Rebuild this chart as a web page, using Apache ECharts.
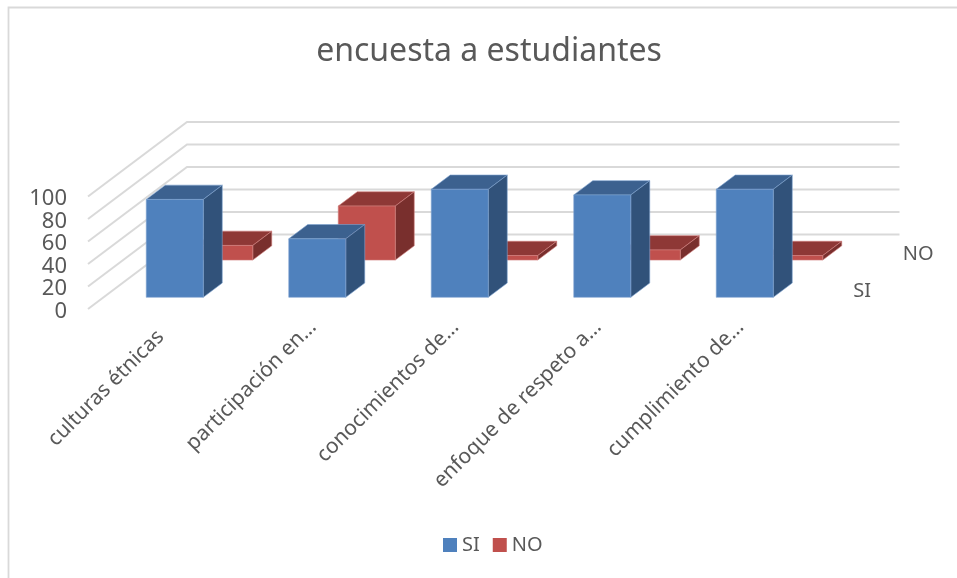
<!DOCTYPE html>
<html><head><meta charset="utf-8">
<style>html,body{margin:0;padding:0;background:#fff}#c{width:957px;height:578px}</style>
<script src="https://cdn.jsdelivr.net/npm/echarts@6/dist/echarts.min.js"></script>
</head><body><div id="c"></div>
<script>
const categories = ['culturas étnicas','participación en…','conocimientos de…','enfoque de respeto a…','cumplimiento de…'];
const siValues = [87,52,96,91,96];
const noValues = [13,48,4,9,4];
const yTicks = [0,20,40,60,80,100];
const depthLabels = ['SI','NO'];

const FONT = '"Noto Sans"';
const TEXT = '#595959';
const DEPTH_X = 99, DEPTH_Y = -74.5;   // full floor depth
const ROW_X = DEPTH_X/2, ROW_Y = DEPTH_Y/2;
const BAR_W = 0.4;                     // of a category band
const BAR_DX = 19, BAR_DY = -14.3;     // depth of one bar
const IN_X = 15.5, IN_Y = -11.7;       // gap from row front to bar front

function barItem(row, front, top, side, rim){
  return function(params, api){
    const i = api.value(0), v = api.value(1);
    const band = api.size([1,0])[0];
    const base = api.coord([i,0]), head = api.coord([i,v]);
    const w = band*BAR_W;
    const ox = row*ROW_X + IN_X, oy = row*ROW_Y + IN_Y;
    const l = base[0]-w/2+ox, r = l+w, b = base[1]+oy, t = head[1]+oy;
    const poly = (pts,fill)=>({type:'polygon',shape:{points:pts},
      style:{fill:fill,stroke:rim,lineWidth:0.6}});
    return {type:'group',children:[
      poly([[l,t],[r,t],[r+BAR_DX,t+BAR_DY],[l+BAR_DX,t+BAR_DY]],top),
      poly([[r,b],[r,t],[r+BAR_DX,t+BAR_DY],[r+BAR_DX,b+BAR_DY]],side),
      poly([[l,b],[r,b],[r,t],[l,t]],front)
    ]};
  };
}

const chart = echarts.init(document.getElementById('c'),null,{renderer:'canvas'});
chart.setOption({
  animation:false,
  backgroundColor:'#fff',
  textStyle:{fontFamily:FONT},
  title:{text:'encuesta a estudiantes',left:484,top:31,textAlign:'center',
    textStyle:{fontFamily:FONT,fontSize:32,fontWeight:'normal',color:TEXT}},
  legend:{data:['SI','NO'],left:438,top:530,icon:'rect',itemWidth:14,itemHeight:14,itemGap:13,
    textStyle:{fontFamily:FONT,fontSize:20,color:TEXT}},
  grid:{left:88,top:196.5,width:712.5,height:112.5,containLabel:false},
  xAxis:{type:'category',
    data:categories.map((c,i)=>({value:c,textStyle:{padding:i===0?[0,-2,0,0]:[0,-16,0,0]}})),
    axisLine:{show:false},axisTick:{show:false},
    splitLine:{show:false},
    axisLabel:{rotate:45,interval:0,margin:26,fontFamily:FONT,fontSize:21,color:TEXT}},
  yAxis:{type:'value',min:0,max:100,interval:20,axisLine:{show:false},axisTick:{show:false},
    splitLine:{show:false},
    axisLabel:{margin:21,fontFamily:FONT,fontSize:22,color:TEXT,verticalAlign:'top',lineHeight:5}},
  graphic:[{type:'rect',silent:true,z:-1,shape:{x:8.5,y:7.5,width:960,height:580},
    style:{fill:'none',stroke:'#d9d9d9',lineWidth:1.8}}],
  series:[
    {name:'walls',type:'custom',coordinateSystem:'cartesian2d',clip:false,silent:true,z:1,
      data:yTicks.map(t=>[0,t]),
      renderItem(params,api){
        const p = api.coord([0,api.value(1)]);
        const e = api.coord([categories.length-1,0])[0]+api.size([1,0])[0]/2;
        return {type:'polyline',shape:{points:[[p[0]-api.size([1,0])[0]/2,p[1]],
          [p[0]-api.size([1,0])[0]/2+DEPTH_X,p[1]+DEPTH_Y],[e+DEPTH_X,p[1]+DEPTH_Y]]},
          style:{fill:'none',stroke:'#d9d9d9',lineWidth:2}};
      }},
    {name:'NO',type:'custom',coordinateSystem:'cartesian2d',clip:false,z:2,
      itemStyle:{color:'#C0504D'},
      data:noValues.map((v,i)=>[i,v]),
      renderItem:barItem(1,'#C0504D','#8E3836','#792F2D','#D2807D')},
    {name:'SI',type:'custom',coordinateSystem:'cartesian2d',clip:false,z:3,
      itemStyle:{color:'#4F81BD'},
      data:siValues.map((v,i)=>[i,v]),
      renderItem:barItem(0,'#4F81BD','#3C618F','#31527A','#7EA3D0')},
    {name:'depth',type:'custom',coordinateSystem:'cartesian2d',clip:false,silent:true,z:4,
      data:depthLabels.map((s,i)=>[i,s]),
      renderItem(params,api){
        const i = params.dataIndex;
        const last = api.coord([categories.length-1,0]);
        const e = last[0]+api.size([1,0])[0]/2;
        return {type:'text',style:{text:depthLabels[i],
          x:e+(i+0.5)*ROW_X+28,y:last[1]+(i+0.5)*ROW_Y+1,
          align:'left',verticalAlign:'middle',fontFamily:FONT,fontSize:20,fill:TEXT}};
      }}
  ]
});
</script></body></html>
